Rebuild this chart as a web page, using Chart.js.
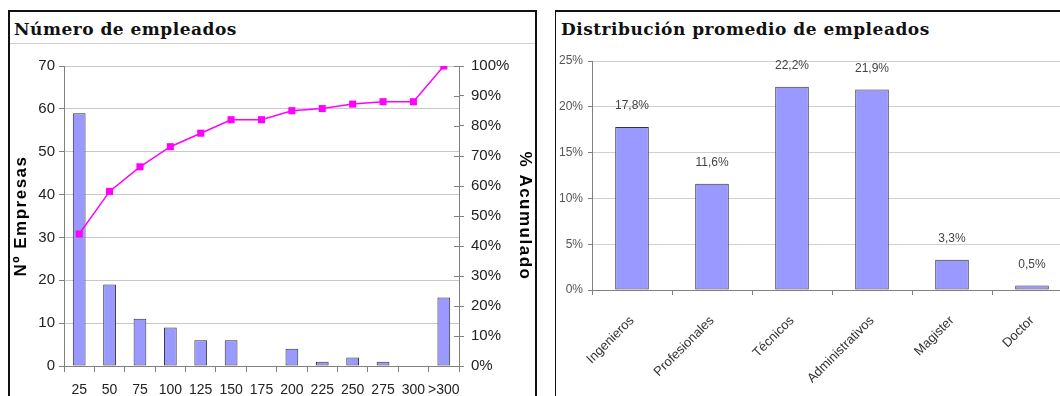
<!DOCTYPE html>
<html>
<head>
<meta charset="utf-8">
<script src="https://cdn.jsdelivr.net/npm/chart.js@4.4.0/dist/chart.umd.min.js"></script>
<style>
  html, body { margin: 0; padding: 0; background: #fff; }
  body { width: 1060px; height: 396px; overflow: hidden; position: relative; font-family: "Liberation Sans", Arial, sans-serif; }
  .panel { position: absolute; background: #fff; box-sizing: content-box; }
  #panelEmpleados { left: 8px; top: 10px; width: 525px; height: 420px; border: 2px solid #111; }
  #panelDistribucion { left: 555px; top: 10px; width: 560px; height: 420px; border-top: 2px solid #111; border-left: 1px solid #111; }
  .titulo { position: absolute; left: 0; top: 0; right: 0; height: 32px; box-sizing: border-box;
            padding: 7px 0 0 4px; font: bold 17px "DejaVu Serif", serif; letter-spacing: 0.5px; line-height: 20px; color: #111; white-space: nowrap; }
  #panelEmpleados .titulo { border-bottom: 1px solid #cfcfcf; }
  #panelDistribucion .titulo { padding-left: 5px; }
  canvas { position: absolute; }
  #graficoEmpleados { left: 10px; top: 46px; }
  #graficoDistribucion { left: 556px; top: 46px; }
</style>
</head>
<body>
<div class="panel" id="panelEmpleados"><div class="titulo">Número de empleados</div></div>
<div class="panel" id="panelDistribucion"><div class="titulo">Distribución promedio de empleados</div></div>
<canvas id="graficoEmpleados" width="525" height="364"></canvas>
<canvas id="graficoDistribucion" width="560" height="364"></canvas>
<script>
// Número de empleados por empresa (rangos) y % acumulado
const rangosEmpleados = ['25', '50', '75', '100', '125', '150', '175', '200', '225', '250', '275', '300', '>300'];
const empresasPorRango = [59, 19, 11, 9, 6, 6, 0, 4, 1, 2, 1, 0, 16];
const porcentajeAcumulado = [44.0, 58.2, 66.4, 73.1, 77.6, 82.1, 82.1, 85.1, 85.8, 87.3, 88.1, 88.1, 100];

// Distribución promedio de empleados por tipo
const tiposEmpleado = ['Ingenieros', 'Profesionales', 'Técnicos', 'Administrativos', 'Magister', 'Doctor'];
const distribucionPromedio = [17.8, 11.6, 22.2, 21.9, 3.3, 0.5];

const GRIS_EJE = '#808080';
const FUENTE = '"Liberation Sans", Arial, sans-serif';

Chart.defaults.font.family = FUENTE;
Chart.defaults.animation = false;

// marcas del eje derecho que cruzan hacia dentro del gráfico
const marcasInternas = {
  id: 'marcasInternas',
  afterDraw(chart) {
    const s = chart.scales.y1;
    if (!s) return;
    const ctx = chart.ctx;
    ctx.save();
    ctx.strokeStyle = GRIS_EJE;
    ctx.lineWidth = 1;
    s.ticks.forEach((t, i) => {
      const y = Math.round(s.getPixelForTick(i)) + 0.5;
      ctx.beginPath();
      ctx.moveTo(s.left - 5, y);
      ctx.lineTo(s.left, y);
      ctx.stroke();
    });
    ctx.restore();
  }
};

// títulos de los ejes verticales, con el texto algo espaciado
const titulosEjes = {
  id: 'titulosEjes',
  afterDraw(chart) {
    const ctx = chart.ctx;
    const area = chart.chartArea;
    const cy = (area.top + area.bottom) / 2;
    ctx.save();
    ctx.font = 'bold 17px ' + FUENTE;
    ctx.fillStyle = '#000';
    ctx.textAlign = 'center';
    ctx.textBaseline = 'middle';
    ctx.letterSpacing = '1.5px';
    ctx.save();
    ctx.translate(chart.scales.y.left + 11, cy);
    ctx.rotate(-Math.PI / 2);
    ctx.fillText('Nº Empresas', 0, 0);
    ctx.restore();
    ctx.save();
    ctx.translate(chart.scales.y1.right - 10, cy);
    ctx.rotate(Math.PI / 2);
    ctx.fillText('% Acumulado', 0, 0);
    ctx.restore();
    ctx.restore();
  }
};

// etiqueta con el valor encima de cada barra
const etiquetasValor = {
  id: 'etiquetasValor',
  afterDatasetsDraw(chart) {
    const ctx = chart.ctx;
    const meta = chart.getDatasetMeta(0);
    ctx.save();
    ctx.font = '12px ' + FUENTE;
    ctx.fillStyle = '#444';
    ctx.textAlign = 'center';
    ctx.textBaseline = 'middle';
    meta.data.forEach((bar, i) => {
      const texto = distribucionPromedio[i].toFixed(1).replace('.', ',') + '%';
      ctx.fillText(texto, bar.x, bar.y - 21);
    });
    ctx.restore();
  }
};

new Chart(document.getElementById('graficoEmpleados'), {
  type: 'bar',
  data: {
    labels: rangosEmpleados,
    datasets: [
      {
        type: 'line',
        label: '% Acumulado',
        data: porcentajeAcumulado,
        yAxisID: 'y1',
        borderColor: '#ff00ff',
        backgroundColor: '#ff00ff',
        borderWidth: 1.5,
        pointStyle: 'rect',
        pointRadius: 5,
        pointBackgroundColor: '#ff00ff',
        pointBorderWidth: 0,
        tension: 0,
        order: 0
      },
      {
        label: 'Nº Empresas',
        data: empresasPorRango,
        yAxisID: 'y',
        backgroundColor: '#9999ff',
        borderColor: '#333',
        borderWidth: 1,
        borderSkipped: false,
        categoryPercentage: 1,
        barPercentage: 0.42,
        order: 1
      }
    ]
  },
  options: {
    responsive: false,
    layout: { padding: { top: 20, left: 0, right: 0, bottom: 0 } },
    plugins: { legend: { display: false }, tooltip: { enabled: false } },
    scales: {
      x: {
        grid: { drawOnChartArea: false, tickLength: 6, color: GRIS_EJE, offset: true },
        border: { color: GRIS_EJE },
        ticks: { color: '#222', font: { size: 14 }, padding: 10, autoSkip: false, maxRotation: 0 },
        afterFit: s => { s.height = 44; }
      },
      y: {
        position: 'left',
        min: 0,
        max: 70,
        ticks: { stepSize: 10, color: '#222', font: { size: 15 }, padding: 4 },
        grid: { color: '#c8c8c8', tickColor: GRIS_EJE, tickLength: 5 },
        border: { color: GRIS_EJE },
        afterFit: s => { s.width = 54; }
      },
      y1: {
        position: 'right',
        min: 0,
        max: 100,
        ticks: { stepSize: 10, color: '#222', font: { size: 15 }, padding: 7, callback: v => v + '%' },
        grid: { drawOnChartArea: false, tickColor: GRIS_EJE, tickLength: 5 },
        border: { color: GRIS_EJE },
        afterFit: s => { s.width = 76; }
      }
    }
  },
  plugins: [marcasInternas, titulosEjes]
});

new Chart(document.getElementById('graficoDistribucion'), {
  type: 'bar',
  data: {
    labels: tiposEmpleado,
    datasets: [{
      label: 'Distribución',
      data: distribucionPromedio,
      backgroundColor: '#9999ff',
      borderColor: '#333',
      borderWidth: 1,
      borderSkipped: false,
      categoryPercentage: 1,
      barPercentage: 0.42
    }]
  },
  options: {
    responsive: false,
    layout: { padding: { top: 15, right: 44, left: 0, bottom: 0 } },
    plugins: { legend: { display: false }, tooltip: { enabled: false } },
    scales: {
      x: {
        grid: { drawOnChartArea: false, tickLength: 5, color: GRIS_EJE, offset: true },
        border: { color: GRIS_EJE },
        ticks: { color: '#333', font: { size: 13 }, minRotation: 45, maxRotation: 45, padding: 18, autoSkip: false },
        afterFit: s => { s.height = 120; }
      },
      y: {
        min: 0,
        max: 25,
        ticks: { stepSize: 5, color: '#555', font: { size: 12 }, padding: 5, callback: v => v + '%' },
        grid: { color: '#d0d0d0', tickColor: GRIS_EJE, tickLength: 4 },
        border: { color: GRIS_EJE },
        afterFit: s => { s.width = 36; }
      }
    }
  },
  plugins: [etiquetasValor]
});
</script>
</body>
</html>
